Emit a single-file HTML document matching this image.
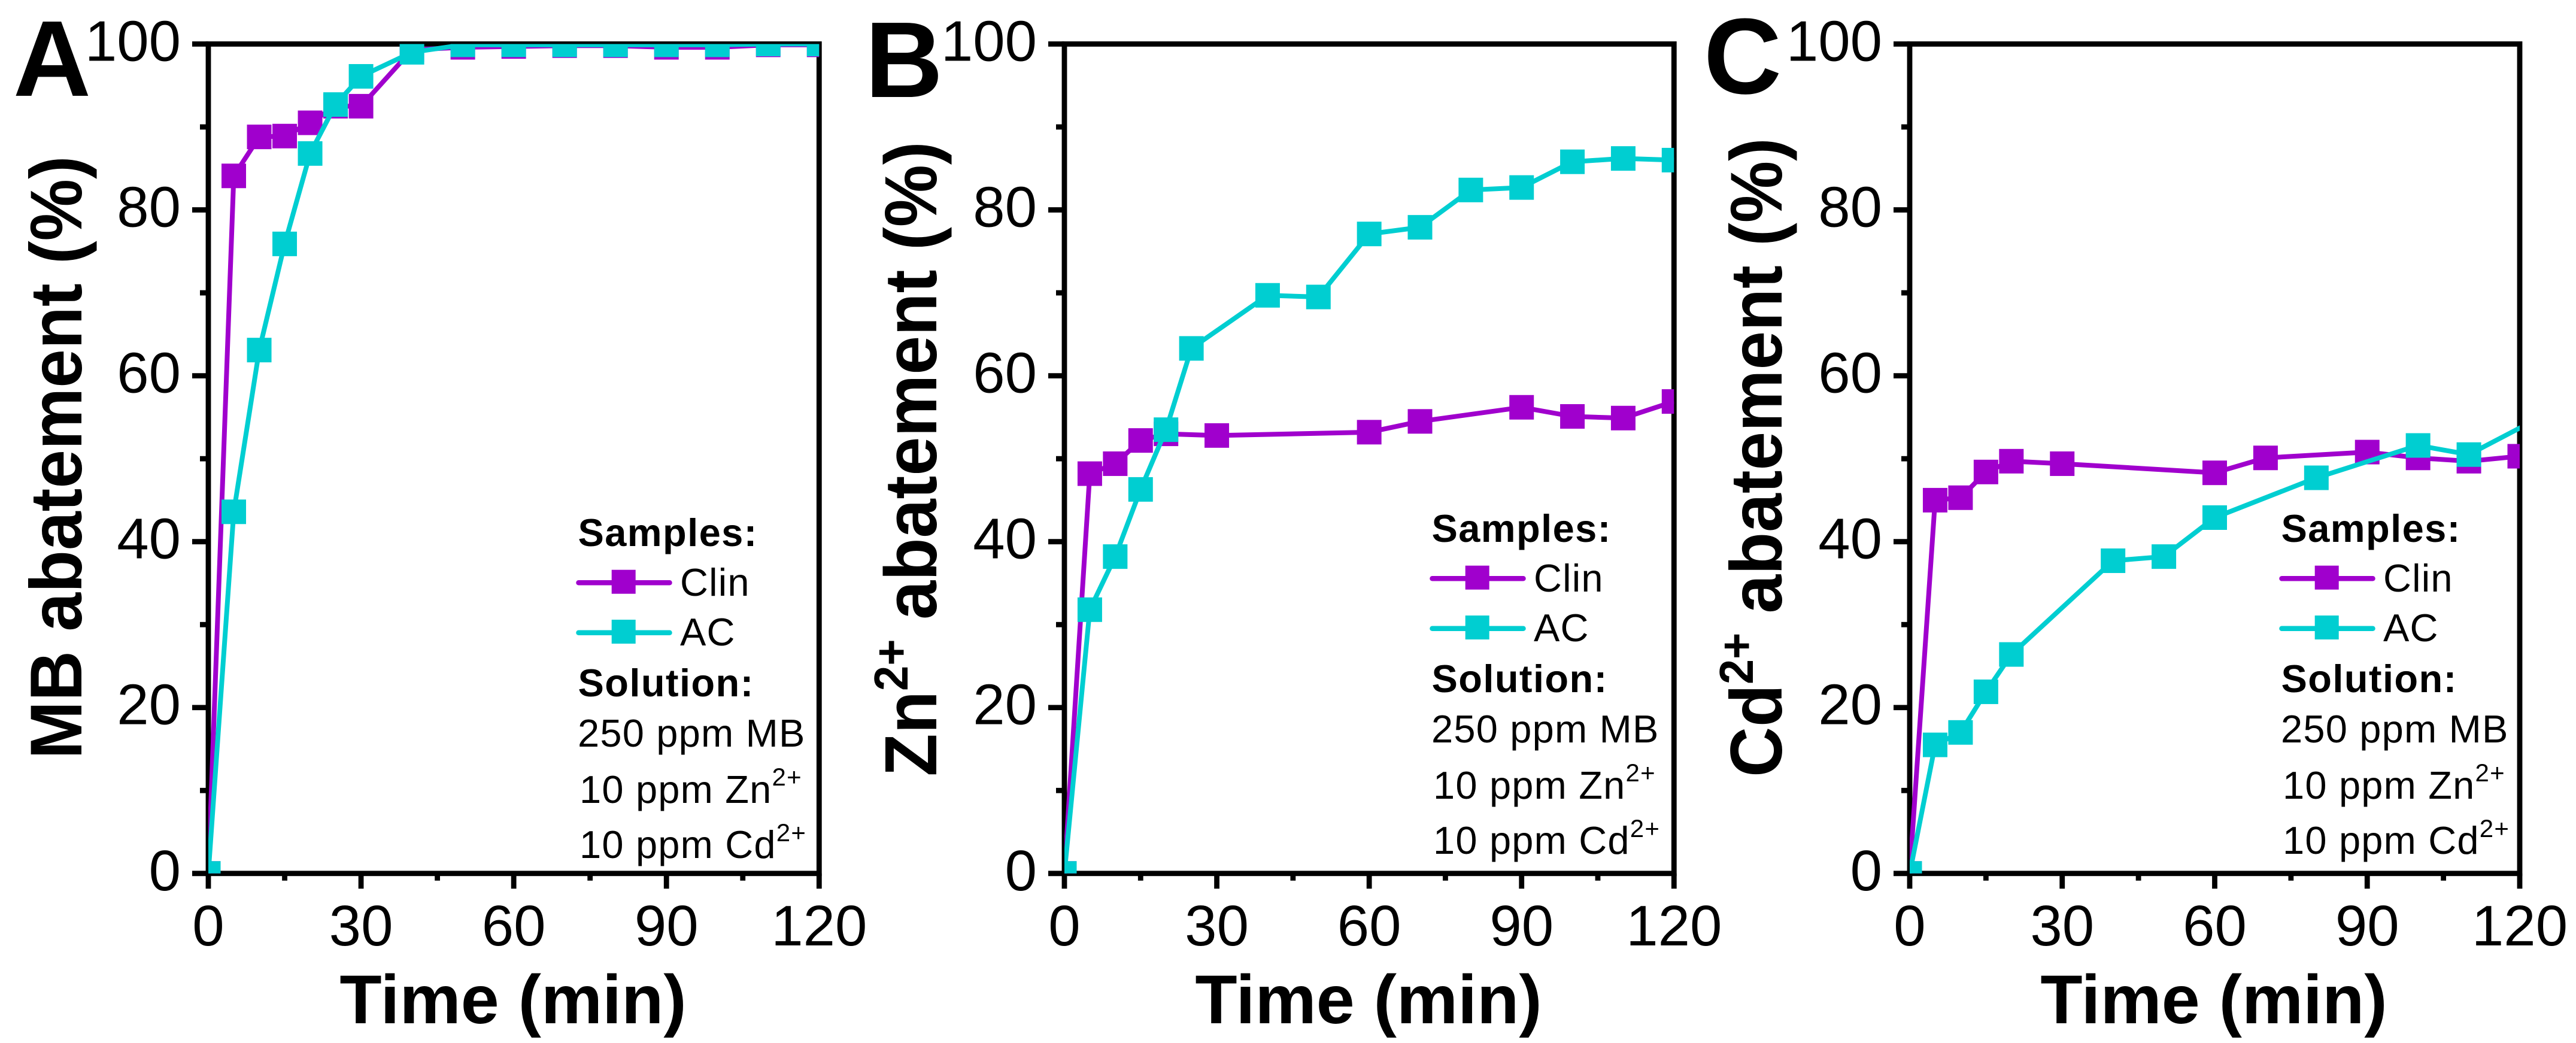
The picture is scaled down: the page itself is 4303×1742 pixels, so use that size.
<!DOCTYPE html>
<html lang="en">
<head>
<meta charset="utf-8">
<title>Abatement kinetics: MB, Zn2+ and Cd2+</title>
<style>
html,body{margin:0;padding:0;background:#fff;}
svg{display:block;}
text{font-family:"Liberation Sans",Arial,sans-serif;fill:#000;}
.bold{font-weight:bold;}
.leg{font-size:65px;letter-spacing:1.2px;}
.leg.bold{letter-spacing:1.4px;}
.ylab{font-size:123px;font-weight:bold;text-anchor:middle;}
.xlab{font-size:115px;font-weight:bold;text-anchor:middle;}
.letter{font-size:180px;font-weight:bold;}
.tick{font-size:96px;}
</style>
</head>
<body>
<svg id="figure" xmlns="http://www.w3.org/2000/svg" width="4303" height="1742" viewBox="0 0 4303 1742">
  <rect x="0" y="0" width="4303" height="1742" fill="#fff"/>
  <g id="panel-a"></g>
  <g id="panel-b"></g>
  <g id="panel-c"></g>

  <text class="letter" x="22" y="160">A</text>
  <text class="letter" x="1445" y="162">B</text>
  <text class="letter" x="2846" y="156">C</text>

  <text class="ylab" transform="translate(136,764) rotate(-90) scale(.945,1)">MB abatement (%)</text>
  <text class="ylab" transform="translate(1564,766.5) rotate(-90) scale(.95,1)">Zn<tspan font-size="80" dy="-48">2+</tspan><tspan dy="48"> abatement (%)</tspan></text>
  <text class="ylab" transform="translate(2976,764) rotate(-90) scale(.945,1)">Cd<tspan font-size="80" dy="-48">2+</tspan><tspan dy="48"> abatement (%)</tspan></text>

  <text class="xlab" x="857" y="1709">Time (min)</text>
  <text class="xlab" x="2286" y="1709">Time (min)</text>
  <text class="xlab" x="3698" y="1709">Time (min)</text>

  <g transform="translate(0,0)">
    <text class="leg bold" x="965.5" y="912">Samples:</text>
    <line x1="966.5" y1="973.3" x2="1118.5" y2="973.3" stroke="#A000CD" stroke-width="8.5" stroke-linecap="round"/>
    <rect x="1021.7" y="951.7" width="40" height="40" fill="#A000CD"/>
    <text class="leg" x="1136" y="995">Clin</text>
    <line x1="966.5" y1="1056.7" x2="1118.5" y2="1056.7" stroke="#00CED1" stroke-width="8.5" stroke-linecap="round"/>
    <rect x="1021.7" y="1035" width="40" height="40" fill="#00CED1"/>
    <text class="leg" x="1136" y="1078">AC</text>
    <text class="leg bold" x="965.5" y="1163">Solution:</text>
    <text class="leg" x="965" y="1247">250 ppm MB</text>
    <text class="leg" x="968" y="1341">10 ppm Zn<tspan font-size="42" dy="-29">2+</tspan></text>
    <text class="leg" x="968" y="1433">10 ppm Cd<tspan font-size="42" dy="-28">2+</tspan></text>
  </g>
  <g transform="translate(1426,-7)">
    <text class="leg bold" x="965.5" y="912">Samples:</text>
    <line x1="966.5" y1="973.3" x2="1118.5" y2="973.3" stroke="#A000CD" stroke-width="8.5" stroke-linecap="round"/>
    <rect x="1021.7" y="951.7" width="40" height="40" fill="#A000CD"/>
    <text class="leg" x="1136" y="995">Clin</text>
    <line x1="966.5" y1="1056.7" x2="1118.5" y2="1056.7" stroke="#00CED1" stroke-width="8.5" stroke-linecap="round"/>
    <rect x="1021.7" y="1035" width="40" height="40" fill="#00CED1"/>
    <text class="leg" x="1136" y="1078">AC</text>
    <text class="leg bold" x="965.5" y="1163">Solution:</text>
    <text class="leg" x="965" y="1247">250 ppm MB</text>
    <text class="leg" x="968" y="1341">10 ppm Zn<tspan font-size="42" dy="-29">2+</tspan></text>
    <text class="leg" x="968" y="1433">10 ppm Cd<tspan font-size="42" dy="-28">2+</tspan></text>
  </g>
  <g transform="translate(2845,-7)">
    <text class="leg bold" x="965.5" y="912">Samples:</text>
    <line x1="966.5" y1="973.3" x2="1118.5" y2="973.3" stroke="#A000CD" stroke-width="8.5" stroke-linecap="round"/>
    <rect x="1021.7" y="951.7" width="40" height="40" fill="#A000CD"/>
    <text class="leg" x="1136" y="995">Clin</text>
    <line x1="966.5" y1="1056.7" x2="1118.5" y2="1056.7" stroke="#00CED1" stroke-width="8.5" stroke-linecap="round"/>
    <rect x="1021.7" y="1035" width="40" height="40" fill="#00CED1"/>
    <text class="leg" x="1136" y="1078">AC</text>
    <text class="leg bold" x="965.5" y="1163">Solution:</text>
    <text class="leg" x="965" y="1247">250 ppm MB</text>
    <text class="leg" x="968" y="1341">10 ppm Zn<tspan font-size="42" dy="-29">2+</tspan></text>
    <text class="leg" x="968" y="1433">10 ppm Cd<tspan font-size="42" dy="-28">2+</tspan></text>
  </g>
</svg>
<script>
// ---- data ----
const xMajorTicks = [0, 30, 60, 90, 120];
const xMinorTicks = [15, 45, 75, 105];
const yMajorTicks = [0, 20, 40, 60, 80, 100];
const yMinorTicks = [10, 30, 50, 70, 90];

const timeClinA = [0, 5, 10, 15, 20, 25, 30, 40, 50, 60, 70, 80, 90, 100, 110, 120];
const clinA = [0, 84.1, 88.8, 88.9, 90.5, 92.5, 92.5, 99.3, 99.6, 99.7, 99.8, 99.8, 99.6, 99.6, 99.9, 99.9];
const timeAcA = [0, 5, 10, 15, 20, 25, 30, 40, 50, 60, 70, 80, 90, 100, 110, 120];
const acA = [0, 43.6, 63.1, 75.9, 86.8, 92.7, 96.1, 99.0, 99.9, 99.9, 99.9, 99.9, 99.9, 99.9, 100, 100];

const timeClinB = [0, 5, 10, 15, 20, 30, 60, 70, 90, 100, 110, 120];
const clinB = [0, 48.2, 49.4, 52.2, 53.0, 52.8, 53.2, 54.5, 56.2, 55.1, 54.9, 56.9];
const timeAcB = [0, 5, 10, 15, 20, 25, 40, 50, 60, 70, 80, 90, 100, 110, 120];
const acB = [0, 31.8, 38.2, 46.3, 53.5, 63.3, 69.7, 69.5, 77.1, 77.9, 82.4, 82.7, 85.8, 86.2, 86.0];

const timeClinC = [0, 5, 10, 15, 20, 30, 60, 70, 90, 100, 110, 120];
const clinC = [0, 45.0, 45.3, 48.4, 49.7, 49.4, 48.3, 50.1, 50.8, 50.1, 49.7, 50.3];
const timeAcC = [0, 5, 10, 15, 20, 40, 50, 60, 80, 100, 110, 130];
const acC = [0, 15.5, 17.0, 21.9, 26.4, 37.7, 38.2, 42.9, 47.7, 51.6, 50.5, 56.9];

// ---- layout ----
const SVG_NS = 'http://www.w3.org/2000/svg';
const PLOT_TOP = 73.5, PLOT_BOTTOM = 1458.8;
const PURPLE = '#A000CD', CYAN = '#00CED1';
const MARKER = 41;
const panels = [
  { id: 'a', left: 348, right: 1368.3, timeClin: timeClinA, clin: clinA, timeAc: timeAcA, ac: acA },
  { id: 'b', left: 1778, right: 2796.3, timeClin: timeClinB, clin: clinB, timeAc: timeAcB, ac: acB },
  { id: 'c', left: 3190, right: 4209, timeClin: timeClinC, clin: clinC, timeAc: timeAcC, ac: acC }
];

function yScale(v) { return PLOT_BOTTOM + (PLOT_TOP - PLOT_BOTTOM) * v / 100; }
function xScaleFor(p) { return function (t) { return p.left + (p.right - p.left) * t / 120; }; }

function make(tag, parent, attrs) {
  const el = document.createElementNS(SVG_NS, tag);
  Object.keys(attrs).forEach(function (k) { el.setAttribute(k, attrs[k]); });
  parent.appendChild(el);
  return el;
}

function drawTick(g, x1, y1, x2, y2, name) {
  const el = make('line', g, { x1: x1, y1: y1, x2: x2, y2: y2, stroke: '#000', 'stroke-width': 8.8 });
  
  
}

function drawSeries(g, clipId, times, values, color, name) {
  const x = xScaleFor(g.panel);
  const clipped = make('g', g, { 'clip-path': 'url(#' + clipId + ')' });
  
  
  const pts = times.map(function (t, i) { return x(t) + ',' + yScale(values[i]); }).join(' ');
  const line = make('polyline', clipped, { points: pts, fill: 'none', stroke: color, 'stroke-width': 8, 'stroke-linejoin': 'round' });
  
  
  times.forEach(function (t, i) {
    const m = make('rect', clipped, { x: x(t) - MARKER / 2, y: yScale(values[i]) - MARKER / 2, width: MARKER, height: MARKER, fill: color });
    
    
  });
}

panels.forEach(function (p) {
  const g = document.getElementById('panel-' + p.id);
  g.panel = p;
  const x = xScaleFor(p);
  const defs = make('defs', g, {});
  const clip = make('clipPath', defs, { id: 'clip-' + p.id });
  make('rect', clip, { x: p.left, y: PLOT_TOP, width: p.right - p.left, height: PLOT_BOTTOM - PLOT_TOP });

  const frame = make('rect', g, { x: p.left, y: PLOT_TOP, width: p.right - p.left, height: PLOT_BOTTOM - PLOT_TOP, fill: 'none', stroke: '#000', 'stroke-width': 8.8 });
  
  

  yMajorTicks.forEach(function (v) {
    drawTick(g, p.left - 27, yScale(v), p.left, yScale(v), 'y-major-tick');
    const t = make('text', g, { class: 'tick', x: p.left - 46, y: yScale(v) + 28, 'text-anchor': 'end' });
    
    
    t.textContent = v;
  });
  yMinorTicks.forEach(function (v) {
    drawTick(g, p.left - 14, yScale(v), p.left, yScale(v), 'y-minor-tick');
  });
  xMajorTicks.forEach(function (v) {
    drawTick(g, x(v), PLOT_BOTTOM, x(v), PLOT_BOTTOM + 25.5, 'x-major-tick');
    const t = make('text', g, { class: 'tick', x: x(v), y: 1579, 'text-anchor': 'middle' });
    
    
    t.textContent = v;
  });
  xMinorTicks.forEach(function (v) {
    drawTick(g, x(v), PLOT_BOTTOM, x(v), PLOT_BOTTOM + 12, 'x-minor-tick');
  });

  drawSeries(g, 'clip-' + p.id, p.timeClin, p.clin, PURPLE, 'clin');
  drawSeries(g, 'clip-' + p.id, p.timeAc, p.ac, CYAN, 'ac');
});
</script>
</body>
</html>
